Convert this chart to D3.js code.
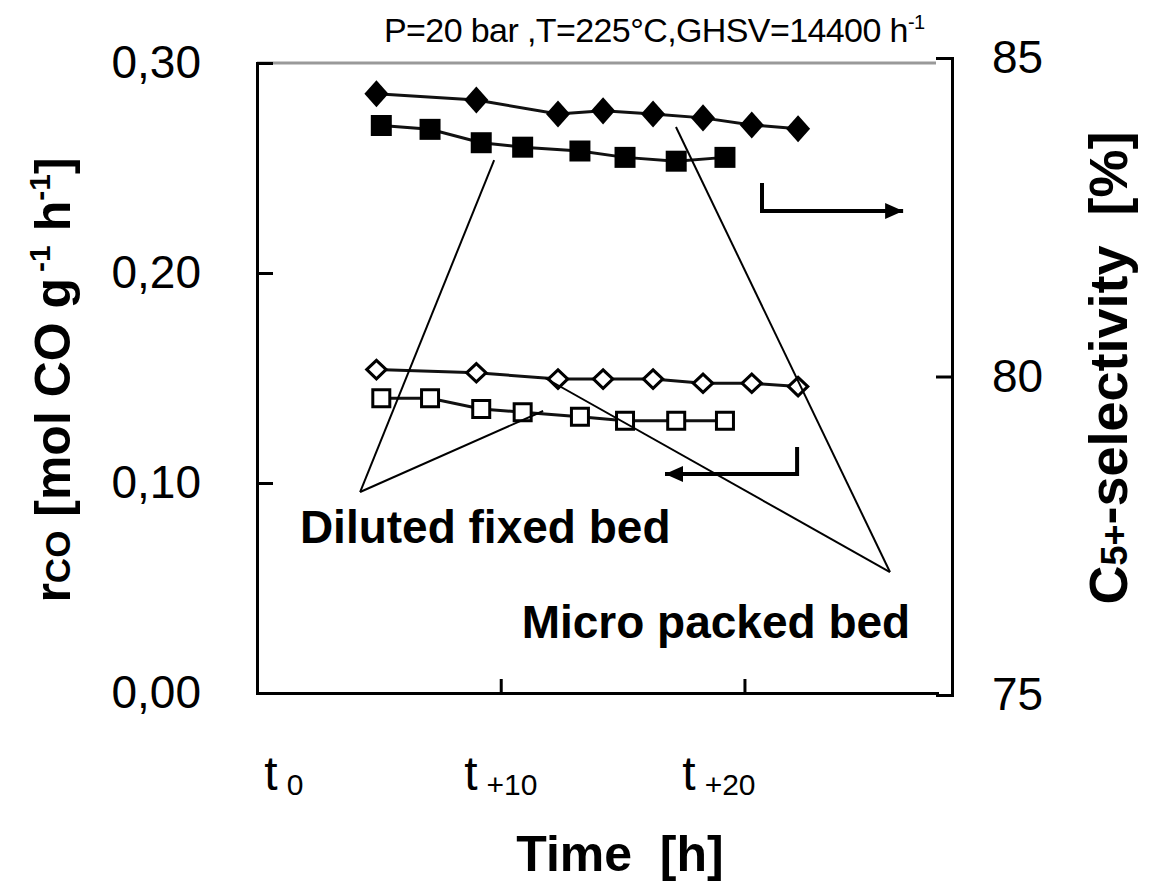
<!DOCTYPE html>
<html>
<head>
<meta charset="utf-8">
<script src="https://cdn.jsdelivr.net/npm/d3@7"></script>
<style>
  body { margin: 0; background: #fff; }
  text { font-family: "Liberation Sans", Arial, sans-serif; fill: #000; }
</style>
</head>
<body>
<div id="chart"></div>
<script>
// time on stream [h]
const timeMicro = [4.9, 9.0, 12.35, 14.2, 16.25, 18.3, 20.3, 22.2];
const timeDiluted = [5.1, 7.1, 9.2, 10.9, 13.25, 15.1, 17.2, 19.2];

// C5+ selectivity [%] (right axis)
const selMicro = [84.44, 84.34, 84.12, 84.17, 84.12, 84.06, 83.95, 83.89];
const selDiluted = [83.94, 83.88, 83.67, 83.60, 83.54, 83.44, 83.38, 83.44];

// rCO [mol CO g-1 h-1] (left axis)
const rcoMicro = [0.154, 0.1525, 0.1495, 0.1495, 0.1495, 0.1475, 0.1475, 0.1459];
const rcoDiluted = [0.1403, 0.1403, 0.1352, 0.1337, 0.1316, 0.1297, 0.1297, 0.1297];

// axis ticks
const leftTicks = [0, 0.1, 0.2, 0.3];
const rightTicks = [75, 80, 85];
const timeTicks = [10, 20];
const timeTickLabels = ['0', '+10', '+20'];
const timeLabelAt = [0.3, 8.5, 17.45];

// annotations, in (hours, rCO) units
const dilutedApex = [4.23, 0.0957];
const dilutedTargets = [[9.73, 0.2538], [11.74, 0.1343]];
const microApex = [25.97, 0.0576];
const microTargets = [[17.19, 0.2695], [11.82, 0.150]];
const selArrow = [[20.72, 0.2429], [20.72, 0.2295], [26.51, 0.2295]];
const rcoArrow = [[22.16, 0.1171], [22.16, 0.1043], [16.74, 0.1043]];

const width = 1149;
const height = 882;

const svg = d3.select('#chart')
  .append('svg')
  .attr('width', width)
  .attr('height', height);

svg.append('defs').append('marker')
  .attr('id', 'head')
  .attr('markerUnits', 'userSpaceOnUse')
  .attr('viewBox', '0 -9 19 18')
  .attr('refX', 18)
  .attr('refY', 0)
  .attr('markerWidth', 19)
  .attr('markerHeight', 18)
  .attr('orient', 'auto')
  .append('path')
  .attr('d', 'M0,-8L18,0L0,8Z')
  .attr('fill', '#000');

const x = d3.scaleLinear().domain([0, 27.9]).range([257, 937]);
const yL = d3.scaleLinear().domain([0, 0.3]).range([693, 63]);
const yR = d3.scaleLinear().domain([75, 85]).range([695, 58]);

const commaFormat = d3.formatLocale({
  decimal: ',', thousands: '.', grouping: [3], currency: ['', ''],
}).format('.2f');

// grey top frame line
svg.append('line')
  .attr('x1', x(0))
  .attr('x2', x.range()[1] - 1)
  .attr('y1', yL(0.3))
  .attr('y2', yL(0.3))
  .attr('stroke', '#999')
  .attr('stroke-width', 3);

function styleAxis(g) {
  g.attr('font-family', null).attr('font-size', null);
  g.select('.domain').attr('stroke', '#000').attr('stroke-width', 3).attr('stroke-linecap', 'square');
  g.selectAll('.tick line').attr('stroke', '#000').attr('stroke-width', 3);
  g.selectAll('.tick text').attr('font-size', 46).attr('fill', '#000');
}

svg.append('g')
  .attr('transform', `translate(${x(0)},0)`)
  .call(d3.axisLeft(yL).tickValues(leftTicks).tickFormat(commaFormat)
    .tickSizeInner(-16).tickSizeOuter(0).tickPadding(56))
  .call(styleAxis);

svg.append('g')
  .attr('transform', 'translate(952,0)')
  .call(d3.axisRight(yR).tickValues(rightTicks)
    .tickSizeInner(-16).tickSizeOuter(0).tickPadding(40))
  .call(styleAxis);

svg.append('g')
  .attr('transform', `translate(0,${yL(0)})`)
  .call(d3.axisBottom(x).tickValues(timeTicks).tickFormat('')
    .tickSizeInner(-14).tickSizeOuter(0))
  .call(styleAxis);

// time tick labels: t with a lowered index
const timeLabels = svg.append('g')
  .selectAll('text')
  .data(timeTickLabels)
  .join('text')
  .attr('x', (d, i) => x(timeLabelAt[i]))
  .attr('y', 790);
timeLabels.append('tspan').attr('font-size', 48).text('t');
timeLabels.append('tspan').attr('font-size', 30).attr('dx', 9).attr('dy', 5).text(d => d);

// series
const series = [
  { t: timeMicro, v: selMicro, y: yR, shape: 'diamond', filled: true },
  { t: timeDiluted, v: selDiluted, y: yR, shape: 'square', filled: true },
  { t: timeMicro, v: rcoMicro, y: yL, shape: 'diamond', filled: false },
  { t: timeDiluted, v: rcoDiluted, y: yL, shape: 'square', filled: false },
];

const line = d3.line().x(d => d[0]).y(d => d[1]);

series.forEach((s) => {
  const pts = s.t.map((t, i) => [x(t), s.y(s.v[i])]);
  svg.append('path')
    .attr('d', line(pts))
    .attr('fill', 'none')
    .attr('stroke', '#111')
    .attr('stroke-width', 3);

  let size;
  if (s.shape === 'diamond') size = s.filled ? 365 : 170;
  else size = s.filled ? 441 : 289;
  const sym = d3.symbol().type(d3.symbolSquare).size(size);

  svg.append('g')
    .selectAll('path')
    .data(pts)
    .join('path')
    .attr('d', sym)
    .attr('transform', d => (s.shape === 'diamond'
      ? `translate(${d[0]},${d[1]}) scale(${s.filled ? 0.89 : 1.05},1) rotate(45)`
      : `translate(${d[0]},${d[1]})`))
    .attr('fill', s.filled ? '#000' : '#fff')
    .attr('stroke', '#000')
    .attr('stroke-width', s.filled ? 0 : 3);
});

// pointer lines to the labels
const pointers = [
  ...dilutedTargets.map(p => [dilutedApex, p]),
  ...microTargets.map(p => [microApex, p]),
];
svg.append('g')
  .selectAll('line')
  .data(pointers)
  .join('line')
  .attr('x1', d => x(d[0][0]))
  .attr('y1', d => yL(d[0][1]))
  .attr('x2', d => x(d[1][0]))
  .attr('y2', d => yL(d[1][1]))
  .attr('stroke', '#000')
  .attr('stroke-width', 2);

// axis arrows
[selArrow, rcoArrow].forEach((a) => {
  svg.append('path')
    .attr('d', line(a.map(p => [x(p[0]), yL(p[1])])))
    .attr('fill', 'none')
    .attr('stroke', '#000')
    .attr('stroke-width', 4)
    .attr('marker-end', 'url(#head)');
});

svg.append('text')
  .attr('x', x(1.76))
  .attr('y', yL(0.0714))
  .attr('font-size', 46)
  .attr('font-weight', 'bold')
  .text('Diluted fixed bed');

svg.append('text')
  .attr('x', x(26.8))
  .attr('y', yL(0.0262))
  .attr('text-anchor', 'end')
  .attr('font-size', 46)
  .attr('font-weight', 'bold')
  .text('Micro packed bed');

// title
const title = svg.append('text')
  .attr('x', 384)
  .attr('y', 42)
  .attr('font-size', 34)
  .attr('letter-spacing', -0.6);
title.append('tspan').text('P=20 bar ,T=225°C,GHSV=14400 h');
title.append('tspan').attr('font-size', 20).attr('dy', -13).text('-1');

// axis titles
const leftTitle = svg.append('text')
  .attr('transform', 'translate(70,380) rotate(-90)')
  .attr('text-anchor', 'middle')
  .attr('font-size', 50)
  .attr('font-weight', 'bold');
leftTitle.append('tspan').text('r');
leftTitle.append('tspan').attr('font-size', 35).text('CO');
leftTitle.append('tspan').text(' [mol CO g');
leftTitle.append('tspan').attr('font-size', 30).attr('dx', 6).attr('dy', -20).text('-1');
leftTitle.append('tspan').attr('dy', 20).text(' h');
leftTitle.append('tspan').attr('font-size', 30).attr('dy', -20).text('-1');
leftTitle.append('tspan').attr('dy', 20).text(']');

const rightTitle = svg.append('text')
  .attr('transform', 'translate(1127,368) rotate(-90)')
  .attr('text-anchor', 'middle')
  .attr('font-size', 54)
  .attr('font-weight', 'bold')
  .style('white-space', 'pre');
rightTitle.append('tspan').text('C');
rightTitle.append('tspan').attr('font-size', 36).text('5+');
rightTitle.append('tspan').text('-selectivity  [%]');

svg.append('text')
  .attr('x', 620)
  .attr('y', 871)
  .attr('text-anchor', 'middle')
  .attr('font-size', 50)
  .attr('font-weight', 'bold')
  .style('white-space', 'pre')
  .text('Time  [h]');
</script>
</body>
</html>
